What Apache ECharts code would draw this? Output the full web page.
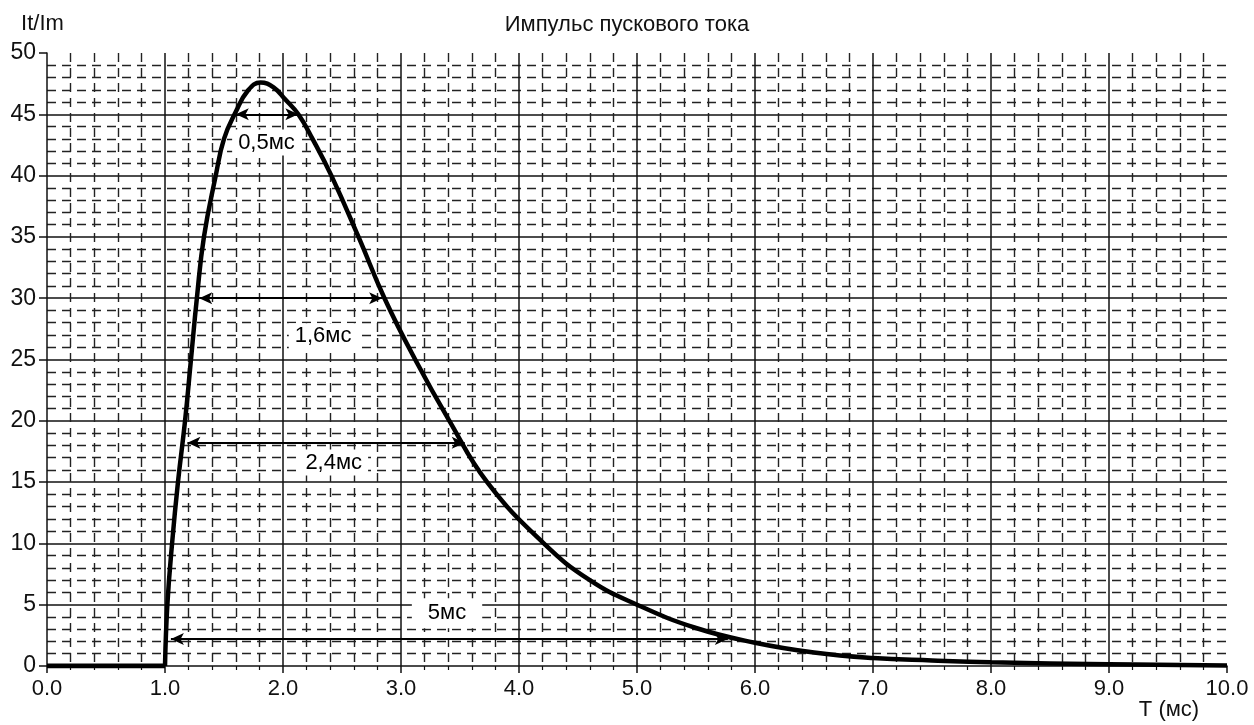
<!DOCTYPE html>
<html>
<head>
<meta charset="utf-8">
<script src="https://cdn.jsdelivr.net/npm/echarts@6/dist/echarts.min.js"></script>
<style>
html,body{margin:0;padding:0;background:#fff;}
#chart{width:1254px;height:725px;}
</style>
</head>
<body>
<div id="chart"></div>
<script>
const chartTitle = 'Импульс пускового тока';
const yName = 'It/Im';
const xName = 'T (мс)';

// curve
const timeMs  = [0, 1.0, 1.02, 1.06, 1.11, 1.17, 1.22, 1.27, 1.33, 1.43, 1.50, 1.60, 1.70, 1.81, 1.92, 2.02, 2.13, 2.25, 2.41, 2.64, 2.86, 3.12, 3.41, 3.73, 4.21, 4.60, 5.00, 5.50, 6.00, 6.50, 7.00, 7.50, 8.00, 9.00, 10.0];
const current = [0, 0,   5,    10,   15,   20,   25,   30,   35,   40,   43,   45.2, 46.9, 47.6, 47.2, 46.2, 45,   43,   40,   35,   30,   25,   20,   15,   10,   7,    5,    3.1,  1.9,  1.1,  0.65, 0.45, 0.3,  0.15, 0.05];

// duration arrows
const arrowLevels = [45, 30, 18.2, 2.2];
const arrowStarts = [1.60, 1.29, 1.19, 1.05];
const arrowEnds   = [2.13, 2.84, 3.54, 5.77];
const arrowLabels = ['0,5мс', '1,6мс', '2,4мс', '5мс'];
const labelX = [1.86, 2.34, 2.43, 3.39];
const labelY = [42.7, 26.9, 16.6, 4.3];

const chart = echarts.init(document.getElementById('chart'));
const FONT = 'Liberation Sans, Arial, sans-serif';
const INK = '#111';

const curveData = timeMs.map((t, i) => [t, current[i]]);
const pulseStart = timeMs.indexOf(1.0);
const baseData = curveData.slice(0, pulseStart + 1);
const pulseData = curveData.slice(pulseStart);
const arrowData = arrowLevels.map((lv, i) => [
  { coord: [arrowStarts[i], lv] },
  { coord: [arrowEnds[i], lv] }
]);
const labelData = arrowLabels.map((s, i) => ({
  value: [labelX[i], labelY[i]],
  name: s,
  label: { padding: i === 3 ? [4, 16] : [2, 6] }
}));

chart.setOption({
  animation: false,
  backgroundColor: '#fff',
  title: {
    text: chartTitle,
    left: 'center',
    top: 9,
    textStyle: { fontFamily: FONT, fontSize: 22, fontWeight: 'normal', color: INK }
  },
  grid: { left: 47, right: 27, top: 53, bottom: 59 },
  xAxis: {
    type: 'value',
    min: 0, max: 10, interval: 1,
    name: xName,
    nameLocation: 'end',
    nameGap: -58,
    nameTextStyle: { fontFamily: FONT, fontSize: 22, color: INK, align: 'center', verticalAlign: 'top', padding: [33, 0, 0, 0] },
    axisLine: { show: true, onZero: false, lineStyle: { color: INK, width: 1.5 } },
    axisTick: { show: true, length: 7, lineStyle: { color: INK, width: 1.5 } },
    minorTick: { show: true, splitNumber: 5, length: 4, lineStyle: { color: INK, width: 1.2 } },
    axisLabel: { fontFamily: FONT, fontSize: 22, color: INK, margin: 12, formatter: v => v.toFixed(1) },
    splitLine: { show: true, showMinLine: false, showMaxLine: false, lineStyle: { color: INK, width: 1.5 } },
    minorSplitLine: { show: true, lineStyle: { color: '#222', width: 1.4, type: [9, 6] } }
  },
  yAxis: {
    type: 'value',
    min: 0, max: 50, interval: 5,
    name: yName,
    nameLocation: 'end',
    nameGap: 18,
    nameTextStyle: { fontFamily: FONT, fontSize: 22, color: INK, padding: [0, 9, 0, 0] },
    axisLine: { show: true, lineStyle: { color: INK, width: 1.5 } },
    axisTick: { show: true, length: 8, lineStyle: { color: INK, width: 1.5 } },
    axisLabel: { fontFamily: FONT, fontSize: 23, color: INK, margin: 11 },
    splitLine: { show: true, showMinLine: false, showMaxLine: false, lineStyle: { color: INK, width: 1.5 } },
    minorTick: { show: false, splitNumber: 5 },
    minorSplitLine: { show: true, lineStyle: { color: '#222', width: 1.4, type: [9, 6] } }
  },
  series: [
    {
      type: 'line',
      data: baseData,
      showSymbol: false,
      lineStyle: { color: '#000', width: 5 },
      z: 5
    },
    {
      type: 'line',
      data: pulseData,
      smooth: 0.45,
      showSymbol: false,
      lineStyle: { color: '#000', width: 4.5 },
      z: 5
    },
    {
      type: 'line',
      data: [],
      markLine: {
        silent: true,
        symbol: ['arrow', 'arrow'],
        symbolSize: [9, 13],
        label: { show: false },
        lineStyle: { color: '#000', width: 2, type: 'solid' },
        data: arrowData
      },
      z: 4
    },
    {
      type: 'scatter',
      data: labelData,
      symbolSize: 1,
      itemStyle: { color: 'rgba(0,0,0,0)', opacity: 1 },
      silent: true,
      label: {
        show: true,
        position: 'inside',
        formatter: p => p.name,
        fontFamily: FONT,
        fontSize: 22,
        color: '#000',
        backgroundColor: '#fff'
      },
      z: 6
    }
  ]
});
</script>
</body>
</html>
